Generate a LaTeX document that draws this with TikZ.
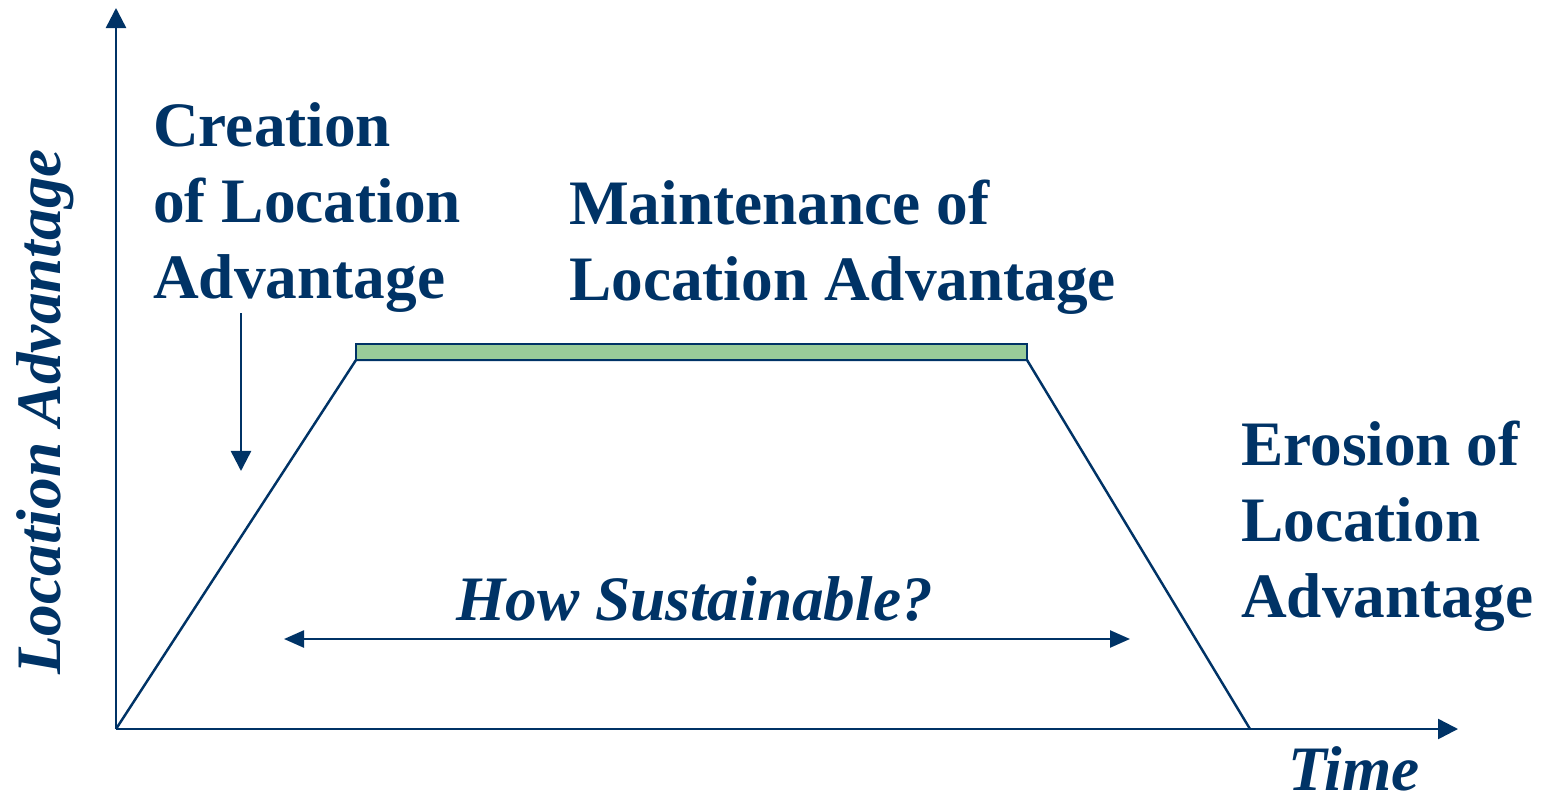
\documentclass[tikz,border=0pt]{standalone}
\usepackage{fontspec}
\setmainfont{Liberation Serif}
\usetikzlibrary{arrows.meta}
\definecolor{navy}{RGB}{0,51,102}
\definecolor{barfill}{RGB}{153,204,153}
\begin{document}
\begin{tikzpicture}[x=0.01cm,y=-0.01cm,line width=0.7pt,color=navy,
  font=\fontsize{18pt}{21.5pt}\selectfont\bfseries,
  tip/.style={-{Triangle[length=0.2cm,width=0.2cm]}},
  lbl/.style={align=left,anchor=base west,inner sep=0pt,text=navy}]
	\useasboundingbox (0,0) rectangle (1552,794);
	\path (116,729) coordinate (O)
	(116,8) coordinate (Ytop)
	(1458,729) coordinate (Xend)
	(356,360) coordinate (P1)
	(1027,360) coordinate (P2)
	(1250,729) coordinate (P3)
	(241,313) coordinate (Dtop)
	(241,471) coordinate (Dbot)
	(284,639) coordinate (Hl)
	(1130,639) coordinate (Hr)
	;
	\draw[tip] (O)--(Ytop);
	\draw[tip] (O)--(Xend);
	\draw (O)--(P1)--(P2)--(P3);
	\draw[fill=barfill] (P1) rectangle ([yshift=0.16cm]P2);
	\draw[tip] (Dtop)--(Dbot);
	\draw[{Triangle[length=0.2cm,width=0.17cm]}-{Triangle[length=0.2cm,width=0.17cm]}] (Hl)--(Hr);
	% multi-line labels: base is the last line
	\node[lbl] (creat) at (152,298) {Creation\\of Location\\Advantage};
	\node[lbl] (maint) at (568,300) {Maintenance of\\Location Advantage};
	\node[lbl] (eros) at (1240,617) {Erosion of\\Location\\Advantage};
	\node[lbl,font=\fontsize{18pt}{21.5pt}\selectfont\bfseries\itshape] (sust) at (455,620) {How Sustainable?};
	\node[lbl,font=\fontsize{18pt}{21.5pt}\selectfont\bfseries\itshape] (time) at (1287,790) {Time};
	\node[lbl,anchor=base,rotate=90,font=\fontsize{18pt}{21.5pt}\selectfont\bfseries\itshape] (ylab) at (60,412) {Location Advantage};
\end{tikzpicture}
\end{document}
